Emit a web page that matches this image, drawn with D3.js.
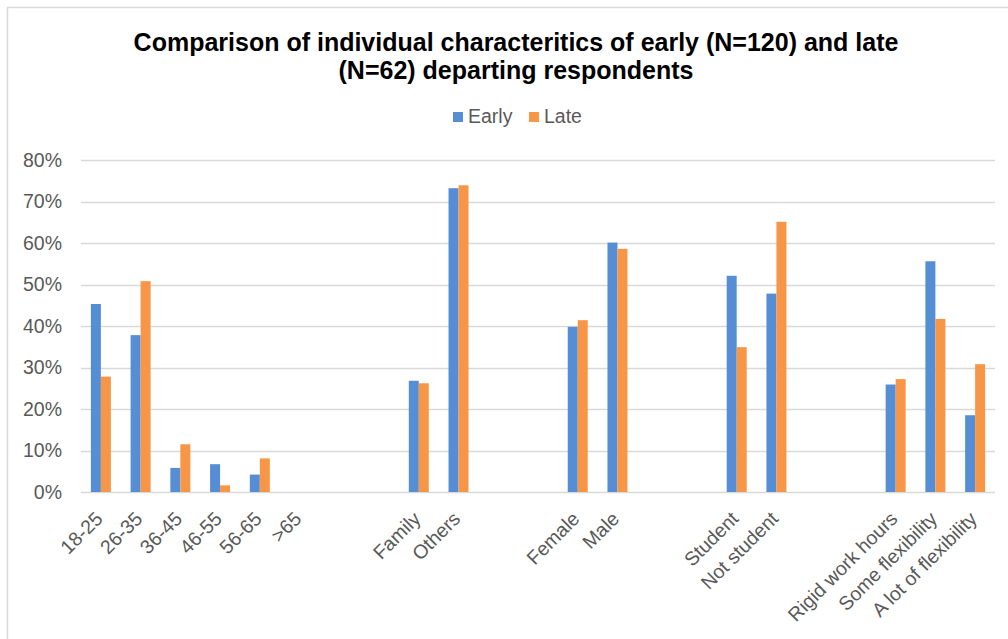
<!DOCTYPE html>
<html>
<head>
<meta charset="utf-8">
<script src="https://cdn.jsdelivr.net/npm/d3@7"></script>
<style>
  html, body { margin: 0; padding: 0; background: #fff; }
  svg { display: block; font-family: "Liberation Sans", Arial, sans-serif; }
</style>
</head>
<body>
<svg id="chart" width="1008" height="639"></svg>
<script>
// Category slots along the x axis; empty strings are spacer slots between groups
const categories = [
  "18-25", "26-35", "36-45", "46-55", "56-65", ">65", "", "",
  "Family", "Others", "", "",
  "Female", "Male", "", "",
  "Student", "Not student", "", "",
  "Rigid work hours", "Some flexibility", "A lot of flexibility"
];
// Share of respondents (%) per category; null for spacer slots
const early = [
  45.3, 37.8, 5.8, 6.7, 4.2, 0, null, null,
  26.8, 73.2, null, null,
  39.8, 60.1, null, null,
  52.1, 47.8, null, null,
  25.9, 55.6, 18.5
];
const late = [
  27.8, 50.8, 11.5, 1.6, 8.1, 0, null, null,
  26.2, 73.9, null, null,
  41.4, 58.6, null, null,
  34.9, 65.1, null, null,
  27.2, 41.7, 30.8
];
const seriesNames = ["Early", "Late"];
const seriesColors = ["#558ed5", "#f79646"];
const yTicks = [0, 10, 20, 30, 40, 50, 60, 70, 80];
const titleLines = [
  "Comparison of individual characteritics of early (N=120) and late",
  "(N=62) departing respondents"
];

const svg = d3.select("#chart");
const plot = { left: 81, right: 995, top: 160, bottom: 492 };

// Chart frame
svg.append("rect")
  .attr("x", 7.5).attr("y", 7.5)
  .attr("width", 1040).attr("height", 660)
  .attr("fill", "none").attr("stroke", "#d9d9d9").attr("stroke-width", 1.5);

const x = d3.scaleBand()
  .domain(d3.range(categories.length))
  .range([plot.left, plot.right])
  .paddingInner(0).paddingOuter(0);

const y = d3.scaleLinear().domain([0, 80]).range([plot.bottom, plot.top]);

// Horizontal gridlines
svg.append("g")
  .selectAll("line")
  .data(yTicks)
  .join("line")
  .attr("x1", plot.left).attr("x2", plot.right)
  .attr("y1", d => Math.round(y(d)) + 0.5).attr("y2", d => Math.round(y(d)) + 0.5)
  .attr("stroke", "#d9d9d9").attr("stroke-width", 1.3);

// Y axis labels
const yAxis = d3.axisLeft(y).tickValues(yTicks).tickFormat(d => d + "%").tickSize(0).tickPadding(0);
const yg = svg.append("g").attr("transform", `translate(${plot.left - 19},0)`).call(yAxis);
yg.select(".domain").remove();
yg.selectAll("text")
  .attr("fill", "#595959")
  .style("font-size", "19.5px")
  .style("font-family", "'Liberation Sans', Arial, sans-serif");

// Bars
const barW = 10;
const series = [early, late];
series.forEach((vals, si) => {
  svg.append("g")
    .selectAll("rect")
    .data(vals.map((v, i) => ({ i, v })).filter(d => d.v !== null && d.v > 0))
    .join("rect")
    .attr("x", d => x(d.i) + x.bandwidth() / 2 - barW + si * barW)
    .attr("width", barW)
    .attr("y", d => y(d.v))
    .attr("height", d => y(0) - y(d.v))
    .attr("fill", seriesColors[si]);
});

// X axis category labels, rotated
const xAxis = d3.axisBottom(x).tickFormat(i => categories[i]).tickSize(0).tickPadding(0);
const xg = svg.append("g").attr("transform", `translate(0,${plot.bottom})`).call(xAxis);
xg.select(".domain").remove();
xg.selectAll(".tick text")
  .attr("fill", "#595959")
  .style("font-size", "19.5px")
  .style("font-family", "'Liberation Sans', Arial, sans-serif")
  .attr("text-anchor", "end")
  .attr("dy", null)
  .attr("y", 0)
  .attr("transform", "translate(3,28) rotate(-45)");

// Title
svg.append("text")
  .attr("x", 516).attr("y", 51)
  .attr("text-anchor", "middle")
  .style("font-size", "25px").style("font-weight", "bold")
  .attr("fill", "#000")
  .selectAll("tspan")
  .data(titleLines)
  .join("tspan")
  .attr("x", 516)
  .attr("dy", (d, i) => i === 0 ? 0 : 28)
  .text(d => d);

// Legend
const legend = svg.append("g");
const legendItems = [{ x: 453 }, { x: 529 }];
seriesNames.forEach((name, i) => {
  const g = legend.append("g").attr("transform", `translate(${legendItems[i].x},112)`);
  g.append("rect").attr("width", 10).attr("height", 10).attr("fill", seriesColors[i]);
  g.append("text").attr("x", 15).attr("y", 11)
    .attr("fill", "#595959").style("font-size", "19.5px")
    .text(name);
});
</script>
</body>
</html>
